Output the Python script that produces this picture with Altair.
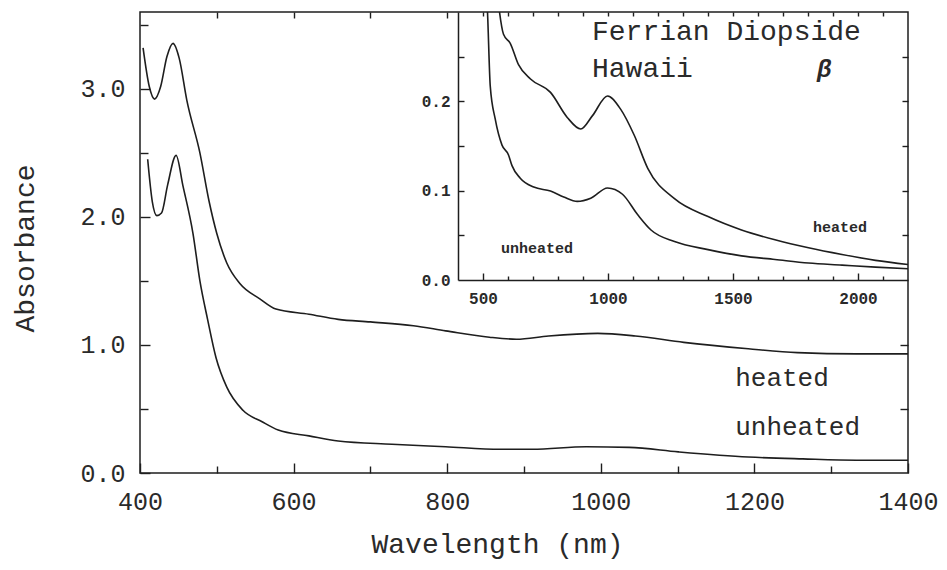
import altair as alt
import pandas as pd

# ---------------- data ----------------
# main panel, 400-1400 nm
main_heated_wl = [404, 412, 419, 427, 435, 443, 451, 461, 478, 490,
                  500, 513, 530, 556, 577, 620, 658, 700, 756, 798,
                  855, 890, 932, 996, 1045, 1108, 1192, 1256, 1333, 1400]
main_heated_abs = [3.32, 3.02, 2.92, 3.02, 3.25, 3.355, 3.24, 2.91, 2.50, 2.12,
                   1.87, 1.64, 1.48, 1.36, 1.28, 1.24, 1.20, 1.18, 1.15, 1.11,
                   1.06, 1.045, 1.07, 1.09, 1.07, 1.02, 0.97, 0.94, 0.93, 0.93]
main_unheated_wl = [410, 416, 422, 428, 436, 447, 456, 469, 478, 488,
                    499, 513, 534, 559, 580, 620, 658, 728, 798, 869,
                    911, 981, 1037, 1101, 1192, 1263, 1333, 1400]
main_unheated_abs = [2.45, 2.12, 2.01, 2.03, 2.25, 2.48, 2.24, 1.87, 1.50, 1.20,
                     0.90, 0.67, 0.49, 0.40, 0.335, 0.29, 0.25, 0.225, 0.205, 0.185,
                     0.185, 0.205, 0.20, 0.165, 0.125, 0.11, 0.10, 0.10]

# inset, 400-2200 nm
inset_heated_wl = [545, 566, 582, 609, 642, 690, 770, 837, 891, 938, 998,
                   1051, 1105, 1159, 1266, 1400, 1534, 1668, 1802, 1936, 2070, 2200]
inset_heated_abs = [0.36, 0.30, 0.275, 0.265, 0.241, 0.225, 0.21, 0.182, 0.169, 0.184, 0.206,
                    0.191, 0.162, 0.125, 0.091, 0.071, 0.056, 0.045, 0.036, 0.0285, 0.022, 0.0174]
inset_unheated_wl = [505, 518, 529, 549, 576, 602, 616, 649, 703, 770, 823, 877, 931,
                     998, 1058, 1119, 1172, 1266, 1400, 1534, 1668, 1802, 1936, 2070, 2200]
inset_unheated_abs = [0.36, 0.30, 0.217, 0.180, 0.151, 0.140, 0.128, 0.114, 0.104, 0.0996, 0.093, 0.088, 0.0915,
                      0.103, 0.096, 0.073, 0.056, 0.043, 0.034, 0.027, 0.023, 0.019, 0.0167, 0.0144, 0.0126]

# tick values
main_x_labels = [400, 600, 800, 1000, 1200, 1400]
main_x_minor = [500, 700, 900, 1100, 1300]
main_x_top = [500, 600, 700, 800]
main_y_labels = [0, 1, 2, 3]
main_y_minor = [0.5, 1.5, 2.5, 3.5]
main_y_right = [0.5, 1.0]
inset_x_labels = [500, 1000, 1500, 2000]
inset_x_minor = [600, 700, 800, 900, 1100, 1200, 1300, 1400, 1600, 1700, 1800, 1900, 2100]
inset_x_top = [500, 600, 700, 800, 900, 1000, 1100, 1200, 1300, 1400, 1500,
               1600, 1700, 1800, 1900, 2000, 2100]
inset_y_labels = [0.0, 0.1, 0.2]
inset_y_ticks = [0.05, 0.1, 0.15, 0.2, 0.25]

# ---------------- styling / layout ----------------
FONT = "Liberation Mono"
INK = "#1e1e1e"
TXT = "#2a2a2a"
W, H = 768, 461
INS_L, INS_B = 318, 268   # inset left and bottom edge inside the plot area

mx = alt.Scale(domain=[400, 1400], nice=False, zero=False)
my = alt.Scale(domain=[0, 3.6], nice=False, zero=False)
ix = alt.Scale(domain=[400, 2200], range=[INS_L, W], nice=False, zero=False)
iy = alt.Scale(domain=[0, 0.3], range=[INS_B, 0], nice=False, zero=False)


def long_df(wl_a, v_a, wl_b, v_b):
    return pd.concat([
        pd.DataFrame({"wl": wl_a, "abs": v_a, "s": "heated"}),
        pd.DataFrame({"wl": wl_b, "abs": v_b, "s": "unheated"}),
    ], ignore_index=True)


main_df = long_df(main_heated_wl, main_heated_abs, main_unheated_wl, main_unheated_abs)
inset_df = long_df(inset_heated_wl, inset_heated_abs, inset_unheated_wl, inset_unheated_abs)


def tick_axis(orient, values, size, offset=0):
    # inward ticks: axis pushed inside by its tick length, ticks point back to the edge
    return alt.Axis(orient=orient, values=values, ticks=True, tickSize=size,
                    tickColor=INK, tickWidth=1.4, offset=offset - size,
                    labels=False, domain=False, grid=False, title=None)


def layer_lines(df, xs, ys, xaxis, yaxis, visible=True, clip=False):
    mark = alt.Chart(df).mark_line(
        color=INK, strokeWidth=1.6, interpolate="monotone", clip=clip,
        strokeOpacity=1 if visible else 0)
    return mark.encode(
        x=alt.X("wl:Q", scale=xs, axis=xaxis),
        y=alt.Y("abs:Q", scale=ys, axis=yaxis),
        detail="s:N",
    )


def note(text, xv, yv, xs, ys, size, weight="normal", style="normal"):
    return alt.Chart(pd.DataFrame({"label": [text]})).mark_text(
        align="left", baseline="alphabetic", font=FONT, fontSize=size,
        fontWeight=weight, fontStyle=style, color=TXT,
    ).encode(
        x=alt.XDatum(xv, scale=xs, axis=None),
        y=alt.YDatum(yv, scale=ys, axis=None),
        text="label:N",
    )


# ---------------- main panel ----------------
main_x_axis = alt.Axis(
    orient="bottom", values=main_x_labels, format="d", ticks=False, tickSize=0, domain=False,
    grid=False, labelPadding=16, labelFlush=False, labelOverlap=False, labelFont=FONT,
    labelFontSize=25, labelColor=TXT, title="Wavelength (nm)", titleFont=FONT,
    titleFontSize=28, titleFontWeight="normal", titleColor=TXT, titleX=357, titleY=79,
    titleBaseline="alphabetic", titleAlign="center")
main_y_axis = alt.Axis(
    orient="left", values=main_y_labels, format=".1f", ticks=False, tickSize=0, domain=False,
    grid=False, labelPadding=15, labelFlush=False, labelOverlap=False, labelFont=FONT,
    labelFontSize=25, labelColor=TXT, title="Absorbance", titleFont=FONT, titleFontSize=28,
    titleFontWeight="normal", titleColor=TXT, titleAngle=270, titleX=-107, titleY=236,
    titleBaseline="alphabetic", titleAlign="center")

main_group = alt.layer(
    layer_lines(main_df, mx, my, main_x_axis, main_y_axis),
    layer_lines(main_df, mx, my, tick_axis("bottom", main_x_labels, 10),
                tick_axis("left", main_y_labels, 10), visible=False),
    layer_lines(main_df, mx, my, tick_axis("bottom", main_x_minor, 7),
                tick_axis("left", main_y_minor, 8), visible=False),
    layer_lines(main_df, mx, my, tick_axis("top", main_x_top, 6),
                tick_axis("right", main_y_right, 8), visible=False),
    note("heated", 1175, 0.68, mx, my, 26),
    note("unheated", 1175, 0.297, mx, my, 26),
).resolve_axis(x="independent", y="independent")

# ---------------- inset ----------------
ins_down = -(H - INS_B)
inset_x_axis = alt.Axis(
    orient="bottom", offset=ins_down, values=inset_x_labels, format="d", ticks=False,
    tickSize=0, domain=True, domainColor=INK, domainWidth=1.5, grid=False, labelPadding=10,
    labelFlush=False, labelOverlap=False, labelFont=FONT, labelFontSize=16,
    labelFontWeight="bold", labelColor=TXT, title=None)
inset_y_axis = alt.Axis(
    orient="left", offset=-INS_L, values=inset_y_labels, format=".1f", ticks=False,
    tickSize=0, domain=True, domainColor=INK, domainWidth=1.5, grid=False, labelPadding=8,
    labelFlush=False, labelOverlap=False, labelFont=FONT, labelFontSize=16,
    labelFontWeight="bold", labelColor=TXT, title=None)

inset_group = alt.layer(
    layer_lines(inset_df, ix, iy, inset_x_axis, inset_y_axis, clip=True),
    layer_lines(inset_df, ix, iy, tick_axis("bottom", inset_x_labels, 7, ins_down),
                tick_axis("left", inset_y_ticks, 6, -INS_L), visible=False),
    layer_lines(inset_df, ix, iy, tick_axis("bottom", inset_x_minor, 4, ins_down),
                tick_axis("right", inset_y_ticks, 6), visible=False),
    layer_lines(inset_df, ix, iy, tick_axis("top", inset_x_top, 4), None, visible=False),
    note("Ferrian Diopside", 936, 0.2687, ix, iy, 28),
    note("Hawaii", 936, 0.2272, ix, iy, 28),
    note("β", 1836, 0.2272, ix, iy, 24, weight="bold", style="italic"),
    note("heated", 1820, 0.0537, ix, iy, 15, weight="bold"),
    note("unheated", 572, 0.0302, ix, iy, 15, weight="bold"),
).resolve_axis(x="independent", y="independent")

chart = alt.layer(main_group, inset_group).resolve_scale(
    x="independent", y="independent"
).properties(
    width=W, height=H,
    padding={"left": 132, "top": 4, "right": 31, "bottom": 89},
    autosize=alt.AutoSizeParams(type="none"),
    background="white",
).configure_view(stroke=INK, strokeWidth=1.5)

chart.save("out.html", embed_options={"renderer": "svg", "actions": False})
